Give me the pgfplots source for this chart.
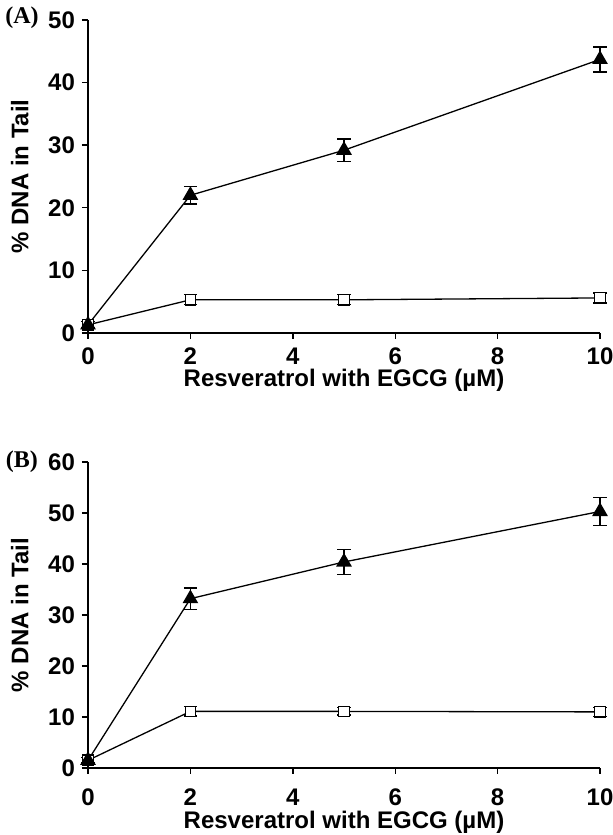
\documentclass[border=0pt]{standalone}
\usepackage{pgfplots}
\pgfplotsset{compat=1.18}
\usepackage{fontspec}
\setmainfont{Liberation Sans}
\newfontfamily\serifb{Liberation Serif}
\begin{document}
\begin{tikzpicture}
\useasboundingbox (0,0) rectangle (306.5pt,417.5pt);
\pgfplotsset{
  myax/.style={
    scale only axis, width=256pt,
    axis lines=left, axis line style={line width=0.8pt, -},
    xmin=0, xmax=10, xtick={0,2,4,6,8,10},
    tick align=outside, major tick length=3pt,
    tick style={line width=0.7pt, black},
    font=\fontsize{12}{14}\selectfont\bfseries,
    /pgf/number format/assume math mode=true,
    ticklabel style={font=\fontsize{12}{14}\selectfont\bfseries},
    xlabel={Resveratrol with EGCG (µM)},
    ylabel={\% DNA in Tail},
    every axis y label/.style={at={(axis description cs:-0.133,0.5)}, rotate=90, anchor=center},
    clip=false,
  },
  tri/.style={black, line width=0.65pt, mark=triangle*, mark size=3.9pt,
    error bars/.cd, y dir=both, y explicit, error bar style={line width=0.65pt},
    error mark options={rotate=90, mark size=3.3pt, line width=0.65pt}},
  sq/.style={black, line width=0.65pt, mark=square, mark size=2.6pt, mark options={fill=white, solid},
    error bars/.cd, y dir=both, y explicit, error bar style={line width=0.65pt},
    error mark options={rotate=90, mark size=3.3pt, line width=0.65pt}},
  sqm/.style={black, only marks, mark=square*, mark size=2.6pt, mark options={fill=white, draw=black, line width=0.65pt}},
}
% Panel A
\begin{axis}[myax, at={(44pt,251pt)}, anchor=south west, height=156.5pt,
  ymin=0, ymax=50, ytick={0,10,20,30,40,50},
  every axis x label/.style={at={(axis description cs:0.5,-0.150)}, anchor=center},
  xticklabel style={yshift=-1pt}]
\addplot[sq] coordinates {(0,1.3) +- (0,0.5) (2,5.3) +- (0,0.8) (5,5.3) +- (0,0.8) (10,5.6) +- (0,0.8)};
\addplot[sqm] coordinates {(0,1.3) (2,5.3) (5,5.3) (10,5.6)};
\addplot[tri] coordinates {(0,1.3) +- (0,0.5) (2,22.0) +- (0,1.4) (5,29.2) +- (0,1.8) (10,43.7) +- (0,2.0)};
\node[font=\serifb\bfseries\fontsize{12}{14}\selectfont] at (axis description cs:-0.129,1.006) {(A)};
\end{axis}
% Panel B
\begin{axis}[myax, at={(44pt,33.5pt)}, anchor=south west, height=153pt,
  ymin=0, ymax=60, ytick={0,10,20,30,40,50,60},
  every axis x label/.style={at={(axis description cs:0.5,-0.176)}, anchor=center},
  xticklabel style={yshift=-4pt}]
\addplot[sq] coordinates {(0,1.5) +- (0,0.5) (2,11.1) +- (0,0.9) (5,11.1) +- (0,0.7) (10,11.0) +- (0,0.9)};
\addplot[sqm] coordinates {(0,1.5) (2,11.1) (5,11.1) (10,11.0)};
\addplot[tri] coordinates {(0,1.5) +- (0,0.5) (2,33.2) +- (0,2.1) (5,40.4) +- (0,2.4) (10,50.3) +- (0,2.8)};
\node[font=\serifb\bfseries\fontsize{12}{14}\selectfont] at (axis description cs:-0.129,1.0) {(B)};
\end{axis}
\end{tikzpicture}
\end{document}
